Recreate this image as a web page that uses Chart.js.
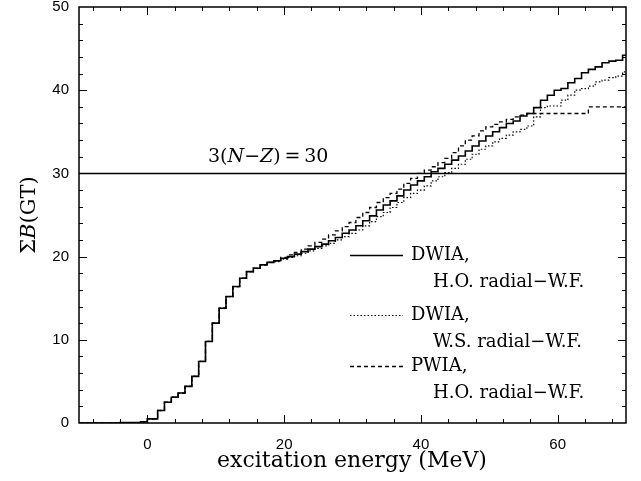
<!DOCTYPE html>
<html>
<head>
<meta charset="utf-8">
<script src="https://cdn.jsdelivr.net/npm/chart.js@4.4.1/dist/chart.umd.min.js"></script>
<style>
  html, body { margin: 0; padding: 0; background: #fff; }
</style>
</head>
<body>
<canvas id="gtChart" width="641" height="481"></canvas>
<script>
// bin start energies (MeV); each value holds until the next edge
var edges = [-10, -4, -1, 0, 1.5, 2.5, 3.5, 4.5, 5.5, 6.5, 7.5, 8.5, 9.5, 10.5, 11.5, 12.5, 13.5, 14.5, 15.5, 16.5, 17.5,
  18.5, 19.5, 20.5, 21.5, 22.5, 23.5, 24.5, 25.5, 26.5, 27.5, 28.5, 29.5, 30.5, 31.5, 32.5, 33.5, 34.5, 35.5, 36.5, 37.5,
  38.5, 39.5, 40.5, 41.5, 42.5, 43.5, 44.5, 45.5, 46.5, 47.5, 48.5, 49.5, 50.5, 51.5, 52.5, 53.5, 54.5, 55.5, 56.5, 57.5,
  58.5, 59.5, 60.5, 61.5, 62.5, 63.5, 64.5, 65.5, 66.5, 67.5, 68.5, 69.5, 70];

var dwiaHO = [0, 0.05, 0.15, 0.5, 1.5, 2.5, 3.1, 3.6, 4.4, 5.6, 7.4, 9.8, 12.0, 13.8, 15.2, 16.4, 17.4, 18.2, 18.6, 19.0, 19.3,
  19.5, 19.8, 20.0, 20.3, 20.6, 20.9, 21.2, 21.5, 21.9, 22.3, 22.8, 23.2, 23.7, 24.3, 24.9, 25.6, 26.2, 26.7, 27.3, 28.0,
  28.6, 29.1, 29.6, 30.2, 30.6, 31.1, 31.6, 32.1, 32.7, 33.3, 33.9, 34.5, 35.0, 35.5, 36.0, 36.3, 36.9, 37.2, 37.9, 38.8,
  39.4, 40.0, 40.2, 40.9, 41.4, 42.1, 42.5, 42.8, 43.3, 43.5, 43.6, 44.2, 44.2];

var dwiaWS = [0, 0.05, 0.15, 0.5, 1.5, 2.5, 3.1, 3.6, 4.4, 5.6, 7.4, 9.8, 12.0, 13.8, 15.2, 16.4, 17.4, 18.2, 18.6, 19.0, 19.3,
  19.4, 19.7, 19.9, 20.1, 20.4, 20.7, 21.0, 21.3, 21.6, 22.0, 22.4, 22.8, 23.2, 23.7, 24.2, 24.8, 25.3, 25.9, 26.5, 27.1,
  27.6, 28.0, 28.5, 29.1, 29.6, 30.1, 30.6, 31.1, 31.7, 32.3, 32.9, 33.3, 33.8, 34.2, 34.6, 35.0, 35.3, 35.7, 36.8, 37.9,
  38.1, 38.1, 38.8, 39.4, 40.0, 40.2, 40.5, 41.0, 41.2, 41.5, 41.7, 42.2, 42.2];

var pwiaHO = [0, 0.05, 0.15, 0.5, 1.5, 2.5, 3.1, 3.6, 4.4, 5.6, 7.4, 9.8, 12.0, 13.8, 15.2, 16.4, 17.4, 18.2, 18.6, 19.0, 19.3,
  19.5, 19.9, 20.2, 20.5, 20.9, 21.3, 21.7, 22.1, 22.6, 23.1, 23.6, 24.1, 24.7, 25.3, 25.9, 26.5, 27.1, 27.6, 28.1, 28.8,
  29.4, 30.0, 30.4, 30.8, 31.3, 31.8, 32.5, 33.3, 34.0, 34.5, 35.1, 35.6, 35.9, 36.2, 36.5, 36.8, 37.0, 37.2, 37.2, 37.2,
  37.2, 37.2, 37.2, 37.2, 37.2, 37.2, 38.0, 38.0, 38.0, 38.0, 38.0, 38.0, 38.0];

var sumRule = 30;
var xRange = [-10, 70];
var yRange = [0, 50];
var xTicks = [0, 20, 40, 60];
var yTicks = [0, 10, 20, 30, 40, 50];

var legendLabels = [
  ["DWIA,", "H.O. radial\u2212W.F."],
  ["DWIA,", "W.S. radial\u2212W.F."],
  ["PWIA,", "H.O. radial\u2212W.F."]
];

function toPoints(arr) {
  return edges.map(function (x, i) { return { x: x, y: arr[i] }; });
}

var serif = "'DejaVu Serif', serif";

// draw a run of [text, italic] pieces starting at x
function drawRuns(ctx, runs, x, y, size) {
  runs.forEach(function (r) {
    ctx.font = (r[1] ? "italic " : "") + size + "px " + serif;
    ctx.fillText(r[0], x, y);
    x += ctx.measureText(r[0]).width;
  });
}
function runsWidth(ctx, runs, size) {
  var w = 0;
  runs.forEach(function (r) {
    ctx.font = (r[1] ? "italic " : "") + size + "px " + serif;
    w += ctx.measureText(r[0]).width;
  });
  return w;
}

var framePlugin = {
  id: 'frame',
  afterDraw: function (chart) {
    var ctx = chart.ctx, a = chart.chartArea;
    var xs = chart.scales.x, ys = chart.scales.y;
    ctx.save();
    ctx.strokeStyle = '#000';
    ctx.fillStyle = '#000';

    ctx.lineWidth = 1.5;
    ctx.strokeRect(a.left, a.top, a.right - a.left, a.bottom - a.top);

    // inward ticks on all four sides
    ctx.lineWidth = 1;
    ctx.beginPath();
    for (var v = -8; v <= 68; v += 4) {
      var px = Math.round(xs.getPixelForValue(v)) + 0.5;
      var len = (v % 20 === 0) ? 8 : 4;
      ctx.moveTo(px, a.bottom); ctx.lineTo(px, a.bottom - len);
      ctx.moveTo(px, a.top); ctx.lineTo(px, a.top + len);
    }
    for (var w = 2; w < 50; w += 2) {
      var py = Math.round(ys.getPixelForValue(w)) + 0.5;
      var l2 = (w % 10 === 0) ? 8 : 4;
      ctx.moveTo(a.left, py); ctx.lineTo(a.left + l2, py);
      ctx.moveTo(a.right, py); ctx.lineTo(a.right - l2, py);
    }
    ctx.stroke();

    // sum rule label
    ctx.textBaseline = 'middle';
    ctx.textAlign = 'left';
    drawRuns(ctx, [["3(", false], ["N", true], ["\u2212", false], ["Z", true], [")\u2009=\u200930", false]],
      208, ys.getPixelForValue(sumRule) - 16, 19);

    // legend
    var rows = [255, 315, 366];
    var sets = chart.data.datasets;
    for (var i = 0; i < 3; i++) {
      var ds = sets[i];
      ctx.lineWidth = ds.borderWidth;
      ctx.setLineDash(ds.borderDash || []);
      ctx.beginPath();
      ctx.moveTo(350, rows[i] + 0.5);
      ctx.lineTo(403, rows[i] + 0.5);
      ctx.stroke();
      ctx.setLineDash([]);
      ctx.font = "18px " + serif;
      ctx.fillText(legendLabels[i][0], 411, rows[i]);
      ctx.fillText(legendLabels[i][1], 433, rows[i] + 27);
    }

    // axis titles
    ctx.font = "22px " + serif;
    ctx.textAlign = 'center';
    ctx.fillText("excitation energy (MeV)", 352, 461);

    var yt = [["\u03A3", false], ["B", true], ["(GT)", false]];
    ctx.translate(30, 215);
    ctx.rotate(-Math.PI / 2);
    ctx.textAlign = 'left';
    drawRuns(ctx, yt, -runsWidth(ctx, yt, 21) / 2, 0, 21);
    ctx.restore();
  }
};

function noPad(s) {
  s.paddingTop = 0; s.paddingBottom = 0; s.paddingLeft = 0; s.paddingRight = 0;
}

var chart = new Chart(document.getElementById('gtChart'), {
  type: 'line',
  data: {
    datasets: [{
      label: 'DWIA, H.O. radial-W.F.',
      data: toPoints(dwiaHO),
      borderColor: '#000',
      borderWidth: 1.6,
      stepped: 'before'
    }, {
      label: 'DWIA, W.S. radial-W.F.',
      data: toPoints(dwiaWS),
      borderColor: '#000',
      borderWidth: 1.2,
      borderDash: [1.5, 2],
      stepped: 'before'
    }, {
      label: 'PWIA, H.O. radial-W.F.',
      data: toPoints(pwiaHO),
      borderColor: '#000',
      borderWidth: 1.3,
      borderDash: [4, 3],
      stepped: 'before'
    }, {
      label: '3(N-Z)',
      data: [{ x: xRange[0], y: sumRule }, { x: xRange[1], y: sumRule }],
      borderColor: '#000',
      borderWidth: 1.5
    }]
  },
  options: {
    responsive: false,
    animation: false,
    devicePixelRatio: 1,
    elements: { point: { radius: 0 }, line: { tension: 0, fill: false } },
    layout: { padding: { top: 7, right: 15, left: 0, bottom: 0 } },
    plugins: { legend: { display: false }, tooltip: { enabled: false } },
    scales: {
      x: {
        type: 'linear',
        min: xRange[0], max: xRange[1],
        grid: { display: false, drawTicks: false },
        border: { display: false },
        afterBuildTicks: function (s) { s.ticks = xTicks.map(function (v) { return { value: v }; }); },
        afterFit: function (s) { s.height = 58; noPad(s); },
        ticks: { color: '#000', padding: 13, maxRotation: 0, font: { family: "'Liberation Sans', sans-serif", size: 15 } }
      },
      y: {
        type: 'linear',
        min: yRange[0], max: yRange[1],
        grid: { display: false, drawTicks: false },
        border: { display: false },
        afterBuildTicks: function (s) { s.ticks = yTicks.map(function (v) { return { value: v }; }); },
        afterFit: function (s) { s.width = 79; noPad(s); },
        ticks: { color: '#000', padding: 10, font: { family: "'Liberation Sans', sans-serif", size: 15 } }
      }
    }
  },
  plugins: [framePlugin]
});
</script>
</body>
</html>
